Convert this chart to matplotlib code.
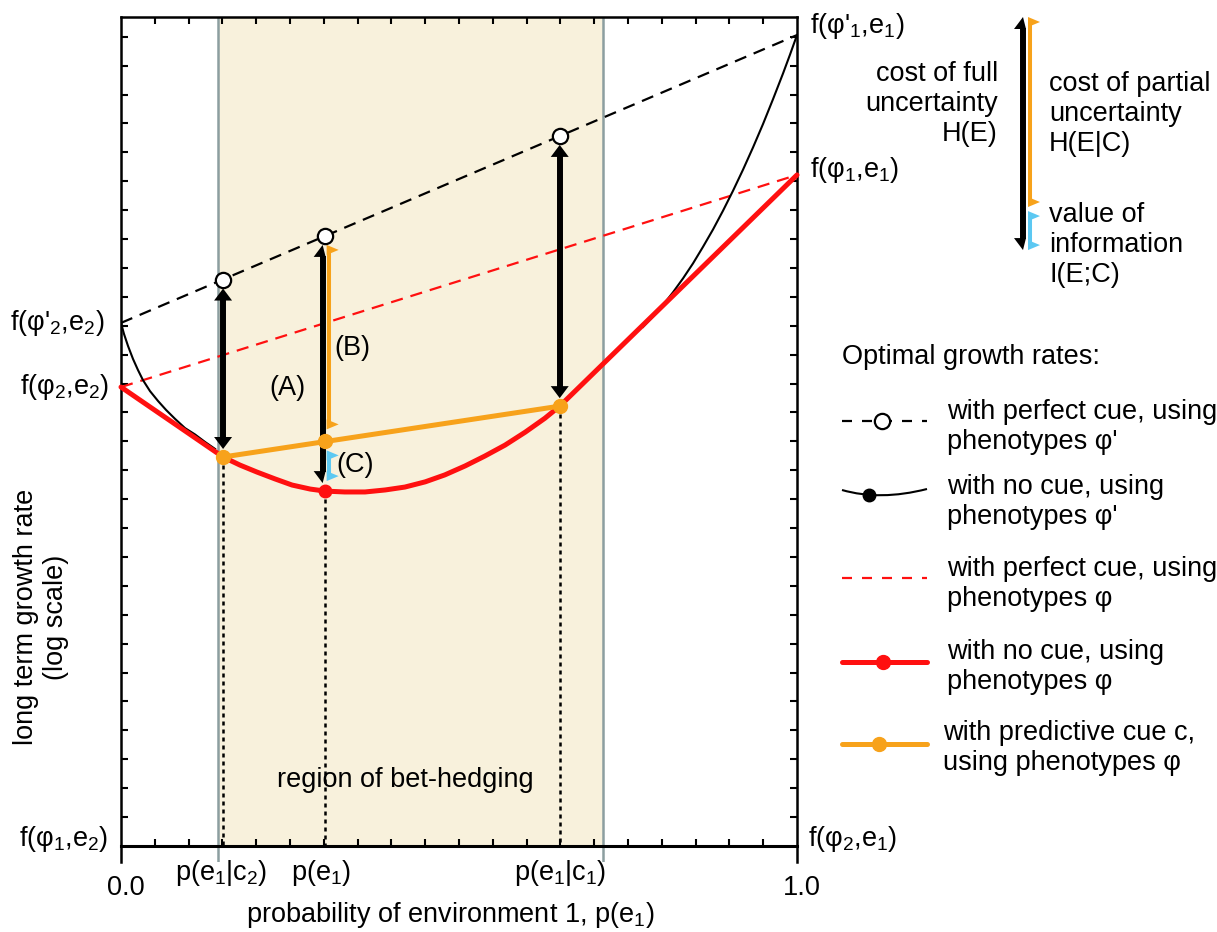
import matplotlib
matplotlib.use("Agg")
import matplotlib.pyplot as plt
from matplotlib.path import Path
from matplotlib.patches import PathPatch

plt.rcParams['font.family'] = ['Liberation Sans', 'DejaVu Sans']
plt.rcParams['mathtext.fontset'] = 'custom'
plt.rcParams['mathtext.rm'] = 'Liberation Sans'
plt.rcParams['mathtext.it'] = 'Liberation Sans:italic'
plt.rcParams['mathtext.bf'] = 'Liberation Sans:bold'
plt.rcParams['font.size'] = 19.5

# --- data (x = p(e1), y = log growth rate in tick units) ---
p_e1_c2, p_e1, p_e1_c1 = 0.151, 0.302, 0.649
bet_hedge = [0.1435, 0.713]

ends = [0.0, 1.0]
perfect_phi_prime = [18.10, 28.06]   # f(phi'2,e2) -> f(phi'1,e1)
perfect_phi = [15.88, 23.22]         # f(phi2,e2) -> f(phi1,e1)

nocue_phi_x = [0.0, 0.151, 0.176, 0.201, 0.228, 0.253, 0.280, 0.302, 0.331, 0.361,
               0.391, 0.420, 0.450, 0.479, 0.509, 0.538, 0.568, 0.598, 0.627, 0.649, 1.0]
nocue_phi_y = [15.88, 13.46, 13.18, 12.94, 12.70, 12.49, 12.35, 12.28, 12.25, 12.25,
               12.32, 12.42, 12.60, 12.84, 13.15, 13.49, 13.87, 14.32, 14.80, 15.22, 23.22]

nocue_prime_left_x = [0.0, 0.0044, 0.0104, 0.0178, 0.0251, 0.0325, 0.0429, 0.0547,
                      0.0666, 0.0799, 0.0947, 0.1095, 0.1243, 0.1391]
nocue_prime_left_y = [18.10, 17.72, 17.30, 16.85, 16.47, 16.12, 15.74, 15.40,
                      15.09, 14.78, 14.46, 14.24, 13.98, 13.74]
nocue_prime_right_x = [0.7722, 0.7870, 0.8018, 0.8166, 0.8314, 0.8462, 0.8609, 0.8757, 0.8905,
                       0.9053, 0.9201, 0.9349, 0.9497, 0.9645, 0.9793, 0.9896, 1.0]
nocue_prime_right_y = [17.96, 18.32, 18.72, 19.16, 19.64, 20.16, 20.73, 21.33, 21.98,
                       22.67, 23.40, 24.17, 24.98, 25.84, 26.73, 27.38, 28.06]

cue_x = [p_e1_c2, p_e1, p_e1_c1]
perfect_at_cue = [19.60, 21.11, 24.57]
with_cue = [13.46, 14.00, 15.22]
nocue_at_pe1 = 12.28

RED = '#FF1010'
ORANGE = '#F7A21B'
CYAN = '#5CC8F2'
SHADE = '#F8F1DC'
GREY = '#8C9EA0'

fig = plt.figure(figsize=(12.17, 9.32), dpi=100)
ax = fig.add_axes([121 / 1217, 70 / 932, 676 / 1217, 845 / 932])
ax.set_xlim(0, 1)
ax.set_ylim(-0.554, 28.685)
SX, SY = 676.0, 845 / (28.685 + 0.554)   # pixels per data unit

# bet-hedging region
ax.fill_between(bet_hedge, 0, 28.685, color=SHADE, lw=0, zorder=0)
for b in bet_hedge:
    ax.axvline(b, color=GREY, lw=1.8, zorder=1)

# dotted drop lines
for x, y in zip([p_e1_c2, p_e1, p_e1_c1], [with_cue[0], nocue_at_pe1, with_cue[2]]):
    ax.plot([x, x], [y, 0], color='black', lw=1.8, dashes=(1.6, 1.6), zorder=2)

# growth rate lines
ax.plot(ends, perfect_phi_prime, color='black', lw=1.6, dashes=(5.5, 3.6), zorder=3)
ax.plot(ends, perfect_phi, color=RED, lw=1.6, dashes=(5.5, 3.6), zorder=3)
ax.plot(nocue_prime_left_x, nocue_prime_left_y, color='black', lw=1.5, zorder=3)
ax.plot(nocue_prime_right_x, nocue_prime_right_y, color='black', lw=1.5, zorder=3)
ax.plot(nocue_phi_x, nocue_phi_y, color=RED, lw=3.6, zorder=4, solid_capstyle='round',
        solid_joinstyle='round', clip_on=False)
ax.plot([p_e1_c2, p_e1_c1], [with_cue[0], with_cue[2]], color=ORANGE, lw=3.6, zorder=5)


def tri(pts, color, z):
    ax.fill([p[0] for p in pts], [p[1] for p in pts], color=color, lw=0, zorder=z, clip_on=False)


def black_arrow(x, y_top, y_bot, half=False, z=7):
    hl, hw, lh = 12 / SY, 9 / SX, 3 / SX
    ax.plot([x, x], [y_bot + hl * 0.9, y_top - hl * 0.9], color='black', lw=4.3,
            solid_capstyle='butt', zorder=z, clip_on=False)
    r = lh if half else hw
    tri([(x, y_top), (x - hw, y_top - hl), (x + r, y_top - hl)], 'black', z)
    tri([(x, y_bot), (x - hw, y_bot + hl), (x + r, y_bot + hl)], 'black', z)


def half_arrow(x, y_top, y_bot, color, z=8):
    hl, hw, lh = 5 / SY, 10 / SX, 2 / SX
    ax.plot([x, x], [y_bot + hl, y_top - hl], color=color, lw=2.9,
            solid_capstyle='butt', zorder=z, clip_on=False)
    tri([(x - lh, y_top), (x + hw, y_top - hl), (x - lh, y_top - 2 * hl)], color, z)
    tri([(x - lh, y_bot), (x + hw, y_bot + hl), (x - lh, y_bot + 2 * hl)], color, z)


gap_top, gap_bot = 9 / SY, 8 / SY
black_arrow(p_e1_c2, perfect_at_cue[0] - gap_top, with_cue[0] + gap_bot)
black_arrow(p_e1_c1, perfect_at_cue[2] - gap_top, with_cue[2] + gap_bot)
xb, xo = p_e1 - 2.5 / SX, p_e1 + 3.5 / SX
black_arrow(xb, perfect_at_cue[1] - gap_top, nocue_at_pe1 + gap_bot, half=True)
half_arrow(xo, perfect_at_cue[1] - gap_top, with_cue[1] + 12 / SY, ORANGE)
half_arrow(xo, with_cue[1] - 9 / SY, nocue_at_pe1 + gap_bot + 2 / SY, CYAN)

# markers
ax.plot(cue_x, perfect_at_cue, 'o', ms=11, mfc='white', mec='black', mew=1.6, zorder=9)
ax.plot(cue_x, with_cue, 'o', ms=10, color=ORANGE, zorder=9)
ax.plot([p_e1], [nocue_at_pe1], 'o', ms=9, color=RED, zorder=9)

# bracket legend at top right (black / orange / cyan)
xk, xc = (1023 - 121) / SX, (1030 - 121) / SX
black_arrow(xk, 28.685, 20.62, half=True)
half_arrow(xc, 28.685, 22.11, ORANGE)
half_arrow(xc, 21.97, 20.62, CYAN)

# axes styling
for s in ['left', 'right', 'top']:
    ax.spines[s].set_linewidth(1.8)
ax.spines['bottom'].set_position(('data', 0))
ax.spines['bottom'].set_linewidth(2.2)
ax.set_xticks([round(0.05 * i, 2) for i in range(1, 20)])
ax.set_yticks(list(range(1, 29)))
ax.tick_params(direction='in', length=5, width=1.5, top=True, right=True,
               labelbottom=False, labelleft=False)

# value labels
ax.text(-0.025, perfect_phi_prime[0], "f(φ'$_2$,e$_2$)", ha='right', va='center')
ax.text(-0.018, perfect_phi[0], "f(φ$_2$,e$_2$)", ha='right', va='center')
ax.text(-0.019, 0.25, "f(φ$_1$,e$_2$)", ha='right', va='center')
ax.text(1.019, perfect_phi_prime[1] + 0.3, "f(φ'$_1$,e$_1$)", ha='left', va='center')
ax.text(1.019, perfect_phi[1] + 0.17, "f(φ$_1$,e$_1$)", ha='left', va='center')
ax.text(1.017, 0.25, "f(φ$_2$,e$_1$)", ha='left', va='center')

ax.text(0.007, -1.45, "0.0", ha='center', va='center')
ax.text(1.007, -1.45, "1.0", ha='center', va='center')
ax.text(0.148, -0.93, "p(e$_1$|c$_2$)", ha='center', va='center')
ax.text(0.296, -0.93, "p(e$_1$)", ha='center', va='center')
ax.text(0.649, -0.93, "p(e$_1$|c$_1$)", ha='center', va='center')

ax.text(0.42, 2.28, "region of bet-hedging", ha='center', va='center', zorder=6)
ax.text(0.2456, 15.85, "(A)", ha='center', va='center', zorder=6)
ax.text(0.343, 17.23, "(B)", ha='center', va='center', zorder=6)
ax.text(0.346, 13.18, "(C)", ha='center', va='center', zorder=6)

# overlay in pixel coordinates for labels and legend
ov = fig.add_axes([0, 0, 1, 1])
ov.set_xlim(0, 1217)
ov.set_ylim(932, 0)
ov.axis('off')
ov.patch.set_visible(False)

ov.text(450, 915, "probability of environment 1, p(e$_1$)", ha='center', va='center')
ov.text(41, 617, "long term growth rate\n(log scale)", ha='center', va='center',
        rotation=90, multialignment='center')

ov.text(998, 104, "cost of full\nuncertainty\nH(E)", ha='right', va='center',
        multialignment='right')
ov.text(1049, 114, "cost of partial\nuncertainty\nH(E|C)", ha='left', va='center')
ov.text(1049, 245, "value of\ninformation\nI(E;C)", ha='left', va='center')

ov.text(842, 357, "Optimal growth rates:", ha='left', va='center')
legend_text = ["with perfect cue, using\nphenotypes φ'",
               "with no cue, using\nphenotypes φ'",
               "with perfect cue, using\nphenotypes φ",
               "with no cue, using\nphenotypes φ",
               "with predictive cue c,\nusing phenotypes φ"]
legend_y = [427, 502, 584, 667, 748]
legend_x = [947, 947, 947, 947, 943]
for t, x, y in zip(legend_text, legend_x, legend_y):
    ov.text(x, y, t, ha='left', va='center')

ov.plot([842, 927], [421, 421], color='black', lw=1.6, dashes=(4.5, 4.5))
ov.plot([882], [421], 'o', ms=11, mfc='white', mec='black', mew=1.6)
curve = Path([(842, 490), (880, 501), (927, 489)], [Path.MOVETO, Path.CURVE3, Path.CURVE3])
ov.add_patch(PathPatch(curve, fc='none', ec='black', lw=1.5))
ov.plot([869], [495], 'o', ms=9, color='black')
ov.plot([842, 927], [578, 578], color=RED, lw=1.6, dashes=(4.5, 4.5))
ov.plot([842, 927], [662, 662], color=RED, lw=3.6, solid_capstyle='round')
ov.plot([883], [662], 'o', ms=10, color=RED)
ov.plot([842, 927], [744, 744], color=ORANGE, lw=3.6, solid_capstyle='round')
ov.plot([879], [744], 'o', ms=10, color=ORANGE)

fig.savefig("out.png", dpi=100)
